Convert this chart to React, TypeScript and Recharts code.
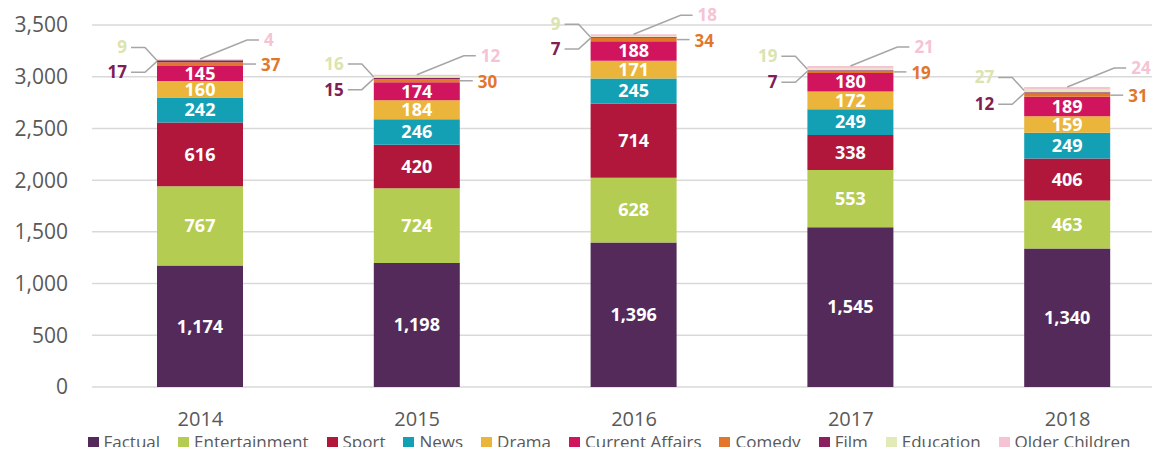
import { Bar, BarChart, CartesianGrid, LabelList, Legend, XAxis, YAxis } from 'recharts';

const years = ['2014', '2015', '2016', '2017', '2018'];
const factual = [1174, 1198, 1396, 1545, 1340];
const entertainment = [767, 724, 628, 553, 463];
const sport = [616, 420, 714, 338, 406];
const news = [242, 246, 245, 249, 249];
const drama = [160, 184, 171, 172, 159];
const currentAffairs = [145, 174, 188, 180, 189];
const comedy = [37, 30, 34, 19, 31];
const film = [17, 15, 7, 7, 12];
const education = [9, 16, 9, 19, 27];
const olderChildren = [4, 12, 18, 21, 24];
const yTicks = [0, 500, 1000, 1500, 2000, 2500, 3000, 3500];

const data = years.map((year, i) => ({
  year,
  Factual: factual[i],
  Entertainment: entertainment[i],
  Sport: sport[i],
  News: news[i],
  Drama: drama[i],
  'Current Affairs': currentAffairs[i],
  Comedy: comedy[i],
  Film: film[i],
  Education: education[i],
  'Older Children': olderChildren[i],
}));

const FONT = '"Open Sans", "Noto Sans", sans-serif';
const LEADER = '#a6a6a6';

const fmt = (v: number) => Number(v).toLocaleString('en-US');

const box = (p: any) => {
  const vb = p.viewBox || {};
  return {
    x: Number(p.x ?? vb.x),
    y: Number(p.y ?? vb.y),
    w: Number(p.width ?? vb.width),
    h: Number(p.height ?? vb.height),
  };
};

const InsideLabel = (p: any) => {
  const { x, y, w, h } = box(p);
  return (
    <text x={x + w / 2} y={y + h / 2} dy="0.35em" textAnchor="middle" fill="#fff" fontSize={18} fontWeight={700} fontFamily={FONT}>
      {fmt(p.value)}
    </text>
  );
};

const makeLeftLabel = (color: string, offset: number) => (p: any) => {
  const { x, y } = box(p);
  const ly = y + offset;
  return (
    <g>
      <polyline points={`${x - 26},${ly} ${x - 12},${ly} ${x},${y + 1}`} fill="none" stroke={LEADER} strokeWidth={1.5} />
      <text x={x - 30} y={ly} dy="0.35em" textAnchor="end" fill={color} fontSize={17} fontWeight={700} fontFamily={FONT}>
        {fmt(p.value)}
      </text>
    </g>
  );
};

const ComedyLabel = (p: any) => {
  const { x, y, w, h } = box(p);
  const cy = y + h / 2;
  return (
    <g>
      <line x1={x + w} y1={cy} x2={x + w + 13} y2={cy} stroke={LEADER} strokeWidth={1.5} />
      <text x={x + w + 18} y={cy + 1} dy="0.35em" textAnchor="start" fill="#e2762b" fontSize={17} fontWeight={700} fontFamily={FONT}>
        {fmt(p.value)}
      </text>
    </g>
  );
};

const OlderLabel = (p: any) => {
  const { x, y, w } = box(p);
  const ly = y - 19;
  return (
    <g>
      <polyline points={`${x + w / 2},${y} ${x + w + 4},${ly} ${x + w + 16},${ly}`} fill="none" stroke={LEADER} strokeWidth={1.5} />
      <text x={x + w + 21} y={ly} dy="0.35em" textAnchor="start" fill="#f6c3d3" fontSize={17} fontWeight={700} fontFamily={FONT}>
        {fmt(p.value)}
      </text>
    </g>
  );
};

const series = [
  { key: 'Factual', color: '#532a5a', label: InsideLabel },
  { key: 'Entertainment', color: '#b5cc52', label: InsideLabel },
  { key: 'Sport', color: '#b1173b', label: InsideLabel },
  { key: 'News', color: '#14a0b4', label: InsideLabel },
  { key: 'Drama', color: '#eab53a', label: InsideLabel },
  { key: 'Current Affairs', color: '#d1145e', label: InsideLabel },
  { key: 'Comedy', color: '#e2762b', label: ComedyLabel },
  { key: 'Film', color: '#8b2060', label: makeLeftLabel('#7e2056', 12) },
  { key: 'Education', color: '#e2eab8', label: makeLeftLabel('#dbe4ae', -12) },
  { key: 'Older Children', color: '#f6c3d3', label: OlderLabel },
];

const LegendContent = () => (
  <div
    style={{
      display: 'flex',
      justifyContent: 'center',
      paddingTop: 5,
      paddingLeft: 60,
      fontFamily: FONT,
      fontSize: 17,
      lineHeight: '20px',
      color: '#595959',
    }}
  >
    {series.map((s) => (
      <div key={s.key} style={{ display: 'flex', alignItems: 'center', marginRight: 18 }}>
        <span style={{ width: 11, height: 11, background: s.color, marginRight: 5, display: 'inline-block' }} />
        <span>{s.key}</span>
      </div>
    ))}
  </div>
);

export default function App() {
  return (
    <div style={{ margin: -8, width: 1160, height: 455, overflow: 'hidden', background: '#fff' }}>
      <BarChart width={1180} height={455} data={data} margin={{ top: 25, right: 4, left: 0, bottom: 0 }} barSize={86}>
        <CartesianGrid vertical={false} stroke="#d9d9d9" strokeWidth={1.5} />
        <XAxis
          dataKey="year"
          axisLine={false}
          tickLine={false}
          height={40}
          tickMargin={19}
          tick={{ fill: '#595959', fontSize: 20, fontFamily: FONT }}
        />
        <YAxis
          width={92}
          domain={[0, 3500]}
          ticks={yTicks}
          axisLine={false}
          tickLine={false}
          tickMargin={18}
          tickFormatter={fmt}
          tick={{ fill: '#595959', fontSize: 21, fontFamily: FONT }}
        />
        <Legend verticalAlign="bottom" height={28} content={<LegendContent />} />
        {series.map((s) => (
          <Bar key={s.key} dataKey={s.key} stackId="a" fill={s.color} isAnimationActive={false}>
            <LabelList dataKey={s.key} content={s.label} />
          </Bar>
        ))}
      </BarChart>
    </div>
  );
}
